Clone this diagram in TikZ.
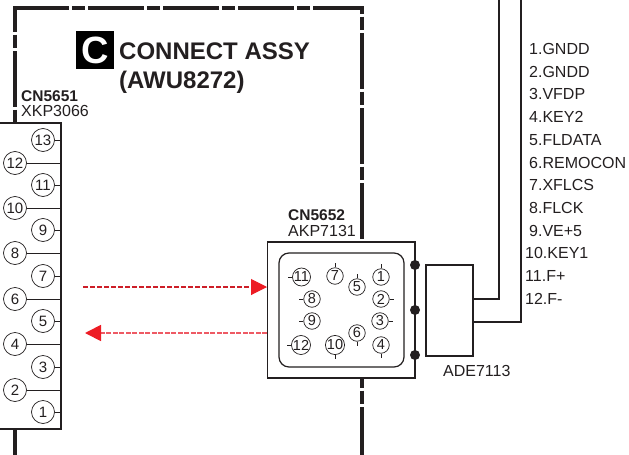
\documentclass[tikz,border=0pt]{standalone}
\usepackage{fontspec}
\setmainfont{Liberation Sans}
\usetikzlibrary{arrows.meta,calc}
\definecolor{inkGray}{RGB}{35,31,32}
\definecolor{arrowRed}{RGB}{237,28,36}
\definecolor{arrowDark}{RGB}{205,30,40}
\definecolor{arrowPink}{RGB}{238,90,100}
\tikzset{
  pinnum/.style={circle, draw=inkGray, line width=0.7pt, fill=white, inner sep=0pt, text=inkGray},
  bigpin/.style={pinnum, minimum size=23, font=\fontsize{15}{15}\selectfont},
  smallpin/.style={pinnum, minimum size=16.5, font=\fontsize{14.5}{15}\selectfont},
  lead/.style={draw=inkGray, line width=0.8pt},
  outline/.style={draw=inkGray, line width=1.2pt},
  assyborder/.style={draw=inkGray, line width=3.4pt, dash pattern=on 56pt off 2.5pt on 13.5pt off 3pt},
  lbl/.style={inner sep=0pt, anchor=west, text=inkGray, font=\fontsize{16}{16}\selectfont},
  lblbold/.style={lbl, font=\fontsize{15.5}{16}\selectfont\bfseries},
  titletxt/.style={inner sep=0pt, anchor=west, text=inkGray, font=\fontsize{24}{24}\selectfont\bfseries},
  dot/.style={circle, fill=inkGray, inner sep=0pt, minimum size=10},
  redtip/.style={-{Triangle[length=16pt, width=16pt, color=arrowRed, fill=arrowRed]}},
}
\begin{document}
\begin{tikzpicture}[x=1pt, y=-1pt]
\useasboundingbox (0,0) rectangle (629,455);

% ===== ASSEMBLY BORDER =====
\coordinate (cornerTL) at (13.3,8);
\coordinate (cornerTR) at (363.7,8);
\coordinate (leftTop) at (15,8);
\coordinate (leftEnd) at (15,123);
\coordinate (leftLow) at (15,429);
\coordinate (leftBot) at (15,455);
\coordinate (rightTop) at (362,8);
\coordinate (rightEnd) at (362,242);
\coordinate (rightLow) at (362,378);
\coordinate (rightBot) at (362,455);
\draw[assyborder] (cornerTL) -- (cornerTR);
\draw[assyborder, dash phase=32pt] (leftTop) -- (leftEnd);
\draw[assyborder, dash phase=50pt] (rightTop) -- (rightEnd);
\draw[assyborder, solid] (leftLow) -- (leftBot);
\draw[assyborder, dash phase=46pt] (rightLow) -- (rightBot);

% Title
\node[fill=black, text=white, minimum size=38, inner sep=0pt, font=\fontsize{38}{38}\selectfont\bfseries] (badge) at (95,50) {C};
\node[titletxt] (title1) at (119,51) {CONNECT ASSY};
\node[titletxt] (title2) at (119,82) {(AWU8272)};

% ===== LEFT CONNECTOR CN5651 =====
\node[lblbold] (cnA) at (21,96) {CN5651};
\node[lbl] (cnApart) at (21,111) {XKP3066};
\fill[white] (-2,123) rectangle (61,429);
\draw[outline] (-2,123) -- (61,123) -- (61,429) -- (-2,429);
\coordinate (edgeA) at (61,123);

\foreach \num/\ypos in {13/140,11/185,9/230,7/276,5/321,3/367,1/412} {
  \node[bigpin] (lpin\num) at (43,\ypos) {\num};
  \draw[lead] (lpin\num) -- (lpin\num -| edgeA);
}
\foreach \num/\ypos in {12/163,10/208,8/253,6/299,4/344,2/390} {
  \node[bigpin] (lpin\num) at (15,\ypos) {\num};
  \draw[lead] (lpin\num) -- (lpin\num -| edgeA);
}

% ===== SIGNAL ARROWS =====
\coordinate (sigOutA) at (83,287);
\coordinate (sigOutB) at (267,287);
\coordinate (sigInA) at (267,333);
\coordinate (sigInB) at (85,333);
\draw[draw=arrowDark, line width=1.05pt, dash pattern=on 5pt off 2pt, redtip] (sigOutA) -- (sigOutB);
\draw[draw=arrowPink, line width=1.8pt, dash pattern=on 5pt off 1.5pt, redtip] (sigInA) -- (sigInB);

% ===== RIGHT CONNECTOR CN5652 =====
\node[lblbold] (cnB) at (288,215) {CN5652};
\node[lbl] (cnBpart) at (288,231) {AKP7131};
\node[outline, minimum width=147.5, minimum height=136, inner sep=0pt, fill=white] (plug) at (341.25,310) {};
\node[outline, rounded corners=10, minimum width=125, minimum height=114, inner sep=0pt] (socket) at (341.5,310) {};

% Socket pins: number / x / y / tick direction
\foreach \num/\xpos/\ypos/\tick in {11/301.5/277/180,7/335/276/90,1/381/277/90,5/357/287/90,8/312/299/180,2/381/299/0,9/312/321/180,3/380/321/0,6/357/333/-90,12/301/345/180,10/335/345/-90,4/381/345/-90} {
  \node[smallpin] (spin\num) at (\xpos,\ypos) {\num};
  \draw[lead] (spin\num.\tick) -- ++(\tick:4pt);
}

% Dots on the plug edge
\node[dot] (dotA) at (415,265) {};
\node[dot] (dotB) at (415,310) {};
\node[dot] (dotC) at (415,355) {};

% ===== CABLE BLOCK =====
\node[outline, minimum width=47, minimum height=91, inner sep=0pt] (block) at (449.5,310.5) {};
\node[lbl] (blockpart) at (443,371) {ADE7113};
\coordinate (wireTopA) at (499,0);
\coordinate (wireTopB) at (521,0);
\coordinate (blockA) at (block.east |- 0,299);
\coordinate (blockB) at (block.east |- 0,322);
\draw[outline] (blockA) -| (wireTopA);
\draw[outline] (blockB) -| (wireTopB);

% ===== PIN LIST =====
\foreach \idx/\sig in {1/GNDD,2/GNDD,3/VFDP,4/KEY2,5/FLDATA,6/REMOCON,7/XFLCS,8/FLCK,9/VE+5,10/KEY1,11/F+,12/F-} {
  \node[lbl] (sig\idx) at ({\idx<10 ? 529 : 525},{49+(\idx-1)*22.7}) {\idx.\sig};
}
\end{tikzpicture}
\end{document}
